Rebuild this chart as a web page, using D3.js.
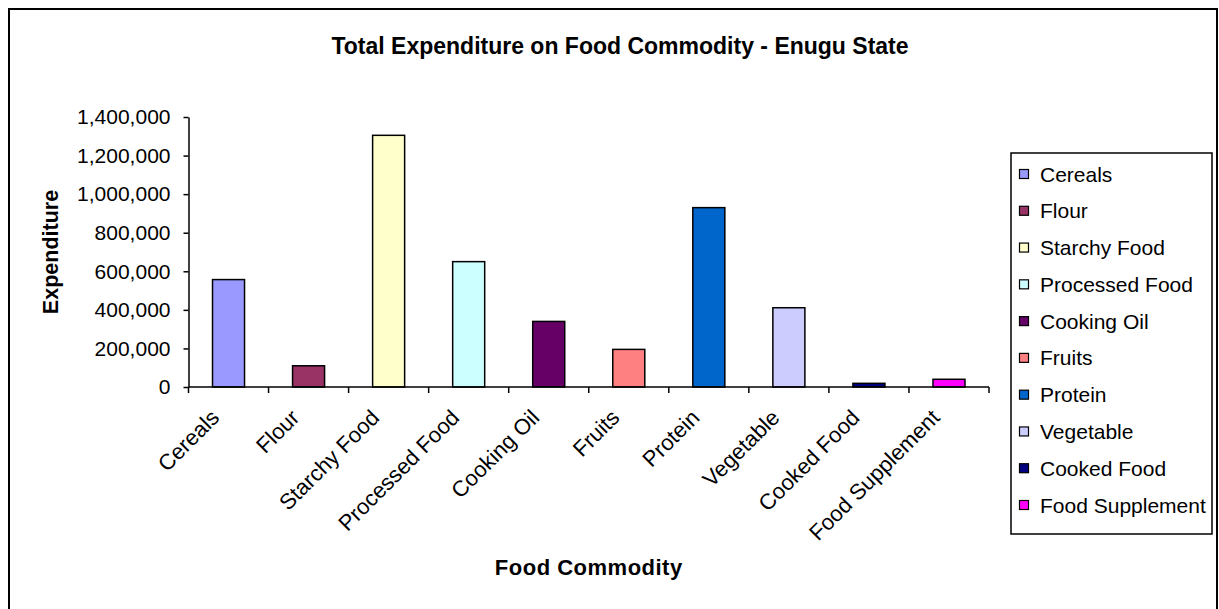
<!DOCTYPE html>
<html>
<head>
<meta charset="utf-8">
<script src="https://cdn.jsdelivr.net/npm/d3@7"></script>
<style>
  html, body { margin: 0; padding: 0; background: #fff; }
  svg { display: block; font-family: "Liberation Sans", Arial, sans-serif; }
</style>
</head>
<body>
<svg id="chart" width="1219" height="609"></svg>
<script>
// Food commodity categories and total expenditure (Enugu State)
const categories = ["Cereals", "Flour", "Starchy Food", "Processed Food", "Cooking Oil",
                    "Fruits", "Protein", "Vegetable", "Cooked Food", "Food Supplement"];
const expenditure = [557000, 110000, 1305000, 650000, 340000, 195000, 930000, 411000, 19000, 40000];
const barColors = ["#9999FF", "#993366", "#FFFFCC", "#CCFFFF", "#660066",
                   "#FF8080", "#0066CC", "#CCCCFF", "#000080", "#FF00FF"];
const yTicks = [0, 200000, 400000, 600000, 800000, 1000000, 1200000, 1400000];

const titleText = "Total Expenditure on Food Commodity - Enugu State";
const xTitle = "Food Commodity";
const yTitle = "Expenditure";

const svg = d3.select("#chart");

// chart area border
svg.append("rect")
  .attr("x", 9).attr("y", 9)
  .attr("width", 1208).attr("height", 610)
  .attr("fill", "#fff").attr("stroke", "#000").attr("stroke-width", 2);

const plot = { left: 188.5, right: 989, top: 117, bottom: 387 };

const x = d3.scaleBand().domain(categories).range([plot.left, plot.right]).paddingInner(0).paddingOuter(0);
const y = d3.scaleLinear().domain([0, 1400000]).range([plot.bottom, plot.top]);
const color = d3.scaleOrdinal().domain(categories).range(barColors);

// bars
const barFrac = 0.4;
svg.append("g").selectAll("rect")
  .data(categories)
  .join("rect")
  .attr("x", d => x(d) + x.bandwidth() * (1 - barFrac) / 2)
  .attr("width", x.bandwidth() * barFrac)
  .attr("y", (d, i) => y(expenditure[i]))
  .attr("height", (d, i) => y(0) - y(expenditure[i]))
  .attr("fill", d => color(d))
  .attr("stroke", "#000")
  .attr("stroke-width", 1.5);

// y axis
const yAxis = svg.append("g")
  .attr("transform", `translate(${plot.left},0)`)
  .call(d3.axisLeft(y).tickValues(yTicks).tickFormat(d3.format(",")).tickSize(5).tickSizeOuter(0).tickPadding(13));
yAxis.select(".domain").attr("stroke", "#000").attr("stroke-width", 1.5);
yAxis.selectAll(".tick line").attr("stroke", "#000").attr("stroke-width", 1.5);
yAxis.selectAll(".tick text")
  .attr("font-size", 21).attr("fill", "#000")
  .attr("font-family", "'Liberation Sans', Arial, sans-serif");

// x axis: ticks at category boundaries
const boundaries = categories.map(d => x(d)).concat([plot.right]);
const xg = svg.append("g");
xg.append("line")
  .attr("x1", plot.left).attr("x2", plot.right)
  .attr("y1", y(0)).attr("y2", y(0))
  .attr("stroke", "#000").attr("stroke-width", 1.5);
xg.selectAll("line.tk")
  .data(boundaries)
  .join("line")
  .attr("class", "tk")
  .attr("x1", d => d).attr("x2", d => d)
  .attr("y1", y(0)).attr("y2", y(0) + 6)
  .attr("stroke", "#000").attr("stroke-width", 1.5);

// rotated category labels
xg.selectAll("text")
  .data(categories)
  .join("text")
  .attr("transform", d => `translate(${x(d) + x.bandwidth() / 2 - 19},${y(0) + 21}) rotate(-45)`)
  .attr("text-anchor", "end")
  .attr("dy", "0.71em")
  .attr("font-size", 22)
  .attr("fill", "#000")
  .text(d => d);

// titles
svg.append("text")
  .attr("x", 620).attr("y", 54)
  .attr("text-anchor", "middle")
  .attr("font-size", 23).attr("font-weight", "bold")
  .text(titleText);

svg.append("text")
  .attr("x", (plot.left + plot.right) / 2).attr("y", 575)
  .attr("text-anchor", "middle")
  .attr("font-size", 22).attr("font-weight", "bold")
  .attr("letter-spacing", 0.5)
  .text(xTitle);

svg.append("text")
  .attr("transform", `translate(58,${(plot.top + plot.bottom) / 2}) rotate(-90)`)
  .attr("text-anchor", "middle")
  .attr("font-size", 21.5).attr("font-weight", "bold")
  .text(yTitle);

// legend
const legend = svg.append("g");
legend.append("rect")
  .attr("x", 1011).attr("y", 153)
  .attr("width", 201).attr("height", 381)
  .attr("fill", "#fff").attr("stroke", "#000").attr("stroke-width", 1.5);

const rowY = d3.scalePoint().domain(categories).range([174, 505]);
const items = legend.selectAll("g.item")
  .data(categories)
  .join("g")
  .attr("class", "item")
  .attr("transform", d => `translate(1019.5,${rowY(d)})`);
items.append("rect")
  .attr("x", 0).attr("y", -4.5)
  .attr("width", 9).attr("height", 9)
  .attr("fill", d => color(d))
  .attr("stroke", "#000").attr("stroke-width", 1.2);
items.append("text")
  .attr("x", 20.5).attr("y", 7.5)
  .attr("font-size", 21)
  .attr("fill", "#000")
  .text(d => d);
</script>
</body>
</html>
